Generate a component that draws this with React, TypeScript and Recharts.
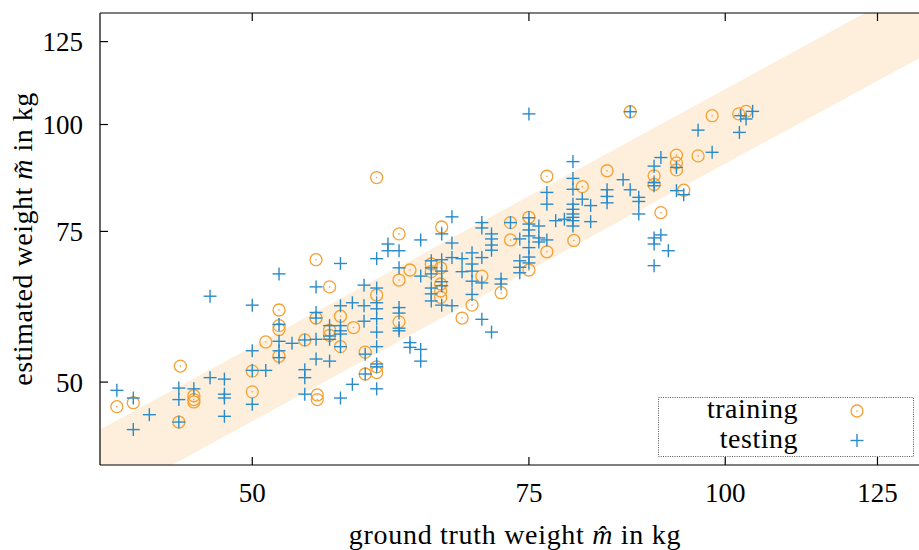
import React from 'react';
import { ComposedChart, Area, Scatter, XAxis, YAxis, Legend } from 'recharts';

const FONT = '"Liberation Serif", "DejaVu Serif", serif';
const ORANGE = '#f5a033';
const BLUE = '#2a8bcb';
const BAND = '#fdefdb';

const xTicks = [50, 75, 100, 125];
const yTicks = [50, 75, 100, 125];
const axisDomain: [number, number] = [40, 135];
const legendOrder = ['training', 'testing'];

// ±10 % tolerance band around the identity line
const bandX = [40, 135];
const bandLower = [36, 121.5];
const bandUpper = [44, 148.5];

// training set: [ground truth, estimate]
const training: [number, number][] = [
  [41.0, 46.8], [42.0, 47.3], [45.0, 52.2], [44.9, 44.9], [45.9, 48.2], [45.9, 47.7], [45.9, 47.4],
  [50.0, 51.5], [50.0, 48.7], [51.0, 55.7], [52.0, 60.7], [52.0, 58.2], [52.0, 57.6], [52.0, 53.6],
  [54.0, 56.0], [54.9, 69.5], [54.9, 59.4], [55.0, 48.3], [55.0, 47.7], [56.0, 64.6], [56.0, 57.5],
  [56.0, 56.7], [56.9, 59.7], [56.9, 55.0], [58.0, 57.9], [59.0, 54.2], [59.0, 51.1], [60.0, 86.7],
  [60.0, 63.2], [60.0, 52.1], [60.0, 51.3], [62.0, 74.5], [62.0, 65.8], [62.0, 58.8], [63.0, 67.6],
  [65.0, 68.7], [65.0, 67.3], [65.9, 68.0], [65.9, 65.1], [65.9, 63.9], [65.9, 62.8], [66.0, 75.9],
  [68.0, 59.4], [69.0, 61.5], [70.0, 66.5], [72.0, 63.6], [73.0, 76.8], [73.0, 73.3], [75.0, 77.9],
  [75.0, 67.6], [77.0, 87.0], [77.0, 71.0], [80.1, 73.2], [81.1, 84.6], [84.1, 88.3], [87.0, 103.5],
  [90.1, 87.1], [90.1, 85.1], [91.0, 78.9], [93.1, 92.1], [93.1, 90.2], [93.1, 88.5], [94.1, 83.8],
  [96.1, 91.9], [98.1, 102.4], [102.0, 102.9], [103.1, 103.6],
];

// testing set: [ground truth, estimate]
const testing: [number, number][] = [
  [41.0, 48.9], [42.0, 47.9], [42.0, 44.0], [43.0, 45.8], [44.9, 49.2], [44.9, 47.7], [44.9, 44.9],
  [45.9, 49.1], [47.0, 63.0], [47.0, 50.6], [48.0, 50.4], [48.0, 48.4], [48.0, 47.9], [48.0, 45.6],
  [50.0, 61.5], [50.0, 54.4], [50.0, 51.6], [50.0, 47.1], [51.0, 51.6], [52.0, 66.9], [52.0, 58.4],
  [52.0, 55.8], [52.0, 54.4], [52.0, 53.4], [53.0, 55.5], [54.0, 56.0], [54.0, 51.7], [54.0, 50.6],
  [54.0, 48.4], [54.9, 64.6], [54.9, 60.3], [54.9, 59.4], [54.9, 56.1], [54.9, 53.2], [56.0, 58.2],
  [56.0, 56.6], [56.0, 56.1], [56.0, 52.9], [56.9, 68.8], [56.9, 61.4], [56.9, 58.2], [56.9, 57.4],
  [56.9, 56.9], [56.9, 55.0], [56.9, 47.9], [57.9, 61.9], [57.9, 49.7], [58.9, 64.9], [58.9, 61.4],
  [58.9, 58.9], [59.0, 53.9], [59.0, 51.1],
  [60.0, 69.7], [60.0, 64.4], [60.0, 61.9], [60.0, 60.9], [60.0, 59.3], [60.0, 57.2], [60.0, 55.0],
  [60.0, 52.5], [60.0, 52.1], [60.0, 49.1], [61.0, 72.5], [61.0, 71.2],
  [62.0, 71.2], [62.0, 68.0], [62.0, 61.1], [62.0, 60.2], [62.0, 57.8], [62.0, 57.4],
  [63.0, 55.6], [63.0, 54.9], [64.0, 73.3], [64.0, 66.5], [64.0, 54.6], [64.0, 52.9],
  [65.0, 69.3], [65.0, 68.0], [65.0, 66.9], [65.0, 64.4], [65.0, 63.4], [65.0, 62.2],
  [66.0, 74.5], [66.0, 69.5], [66.0, 67.4], [66.0, 65.5], [66.0, 64.8], [66.0, 61.5],
  [67.0, 78.0], [67.0, 72.7], [67.0, 69.9], [67.0, 61.4], [68.0, 69.7], [68.0, 67.3],
  [69.0, 70.8], [69.0, 68.7], [69.0, 67.4], [69.0, 65.6], [69.0, 63.3],
  [70.0, 76.8], [70.0, 75.7], [70.0, 69.9], [70.0, 65.3], [70.0, 59.2],
  [71.0, 74.5], [71.0, 73.5], [71.0, 72.3], [71.0, 71.3], [71.0, 57.2],
  [72.0, 66.0], [72.0, 65.1], [73.0, 76.8], [74.0, 73.5], [74.0, 69.3], [74.0, 68.1], [74.0, 67.1],
  [75.0, 102.9], [75.0, 77.8], [75.0, 76.5], [75.0, 75.3], [75.0, 74.1], [75.0, 71.8], [75.0, 70.0],
  [75.0, 68.9], [76.1, 76.1], [76.1, 73.7], [76.1, 72.9], [77.0, 83.3], [77.0, 80.7], [77.0, 73.3],
  [78.0, 77.2], [79.0, 77.5],
  [80.0, 90.5], [80.0, 86.5], [80.0, 84.0], [80.0, 80.7], [80.0, 79.6], [80.0, 78.6], [80.0, 77.9],
  [80.0, 77.2], [80.0, 76.1], [81.1, 81.8], [82.1, 80.4], [82.1, 77.0],
  [84.1, 83.9], [84.1, 82.4], [84.1, 81.0], [86.1, 86.2], [87.0, 103.5], [87.0, 83.9],
  [88.1, 82.2], [88.1, 81.3], [88.1, 78.6],
  [90.1, 89.4], [90.1, 85.5], [90.1, 84.8], [90.1, 73.7], [90.1, 72.5], [90.1, 68.4],
  [91.0, 91.5], [91.0, 74.3], [92.0, 71.2], [93.1, 89.1], [93.1, 83.7], [94.1, 82.8],
  [96.1, 98.5], [98.1, 92.8], [102.1, 97.9], [102.3, 102.4], [103.1, 101.5], [104.1, 103.6],
];

const bandData = bandX.map((x, i) => ({ x, band: [bandLower[i], bandUpper[i]] }));
const trainingData = training.map(([x, y]) => ({ x, y }));
const testingData = testing.map(([x, y]) => ({ x, y }));

const CircleMark = (props: any) => {
  const { cx, cy } = props;
  if (cx == null || cy == null) return null;
  return (
    <g>
      <circle cx={cx} cy={cy} r={6} fill="none" stroke={ORANGE} strokeWidth={1.3} />
      <circle cx={cx} cy={cy} r={0.8} fill={ORANGE} />
    </g>
  );
};

const PlusMark = (props: any) => {
  const { cx, cy } = props;
  if (cx == null || cy == null) return null;
  const h = 6.5;
  return (
    <g stroke={BLUE} strokeWidth={1.4}>
      <line x1={cx - h} y1={cy} x2={cx + h} y2={cy} />
      <line x1={cx} y1={cy - h} x2={cx} y2={cy + h} />
    </g>
  );
};

const LegendContent = (props: any) => {
  const raw = (props.payload || []).filter((p: any) => p.type !== 'none').map((p: any) => p.value);
  const names = legendOrder.filter((n) => raw.length === 0 || raw.includes(n));
  return (
    <svg width={257} height={61} style={{ display: 'block', overflow: 'visible' }}>
      <rect x={0.5} y={0.5} width={255} height={59} fill="none" stroke="#555" strokeWidth={1} strokeDasharray="1 1.3" />
      {names.map((name: string, i: number) => {
        const cy = 14 + i * 29.5;
        return (
          <g key={name}>
            <text x={140} y={cy + 7} textAnchor="end" fontFamily={FONT} fontSize={28} letterSpacing={0.5} fill="#000">
              {name}
            </text>
            {name === 'training' ? <CircleMark cx={199} cy={cy} /> : <PlusMark cx={199} cy={cy} />}
          </g>
        );
      })}
    </svg>
  );
};

const XTitle = (props: any) => {
  const vb = props.viewBox || { x: 100, y: 465, width: 830, height: 85 };
  return (
    <text x={vb.x + vb.width / 2} y={vb.y + 79} textAnchor="middle" fontFamily={FONT} fontSize={28} letterSpacing={0.7} fill="#000">
      ground truth weight <tspan fontStyle="italic">{'m\u0302'}</tspan> in kg
    </text>
  );
};

const YTitle = (props: any) => {
  const vb = props.viewBox || { x: 0, y: 13, width: 100, height: 452 };
  const x = vb.x + 32;
  const y = vb.y + vb.height / 2;
  return (
    <text x={x} y={y} textAnchor="middle" fontFamily={FONT} fontSize={28} letterSpacing={0.5} fill="#000" transform={`rotate(-90, ${x}, ${y})`}>
      estimated weight <tspan fontStyle="italic">{'m\u0303'}</tspan> in kg
    </text>
  );
};

const tickStyle = { fontFamily: FONT, fontSize: 27, fill: '#000' };
const lineStyle = { stroke: '#000', strokeWidth: 1.2 };

export default function App() {
  return (
    <div style={{ position: 'absolute', left: 0, top: 0, width: 919, height: 550, overflow: 'hidden', background: '#fff' }}>
      <ComposedChart width={960} height={550} data={bandData} margin={{ top: 0, right: 30, bottom: 0, left: 0 }}>
        <XAxis
          dataKey="x"
          type="number"
          scale="log"
          domain={axisDomain}
          allowDataOverflow
          ticks={xTicks}
          height={85}
          tickSize={-8}
          tickMargin={26}
          tick={tickStyle}
          axisLine={lineStyle}
          tickLine={lineStyle}
          label={XTitle}
        />
        <XAxis
          xAxisId="top"
          orientation="top"
          dataKey="x"
          type="number"
          scale="log"
          domain={axisDomain}
          allowDataOverflow
          ticks={xTicks}
          height={13}
          tickSize={-8}
          tickFormatter={() => ''}
          axisLine={lineStyle}
          tickLine={lineStyle}
        />
        <YAxis
          dataKey="y"
          type="number"
          scale="log"
          domain={axisDomain}
          allowDataOverflow
          ticks={yTicks}
          width={100}
          tickSize={-8}
          tickMargin={25}
          tick={tickStyle}
          axisLine={lineStyle}
          tickLine={lineStyle}
          label={YTitle}
        />
        <Area
          dataKey="band"
          type="linear"
          fill={BAND}
          fillOpacity={1}
          stroke="none"
          dot={false}
          activeDot={false}
          legendType="none"
          isAnimationActive={false}
        />
        <Scatter name="training" data={trainingData} fill={ORANGE} shape={CircleMark} isAnimationActive={false} />
        <Scatter name="testing" data={testingData} fill={BLUE} shape={PlusMark} isAnimationActive={false} />
        <Legend
          layout="horizontal"
          verticalAlign="middle"
          align="center"
          content={LegendContent}
          wrapperStyle={{ position: 'absolute', left: 658, top: 397, width: 257, height: 61, overflow: 'visible' }}
        />
      </ComposedChart>
    </div>
  );
}
